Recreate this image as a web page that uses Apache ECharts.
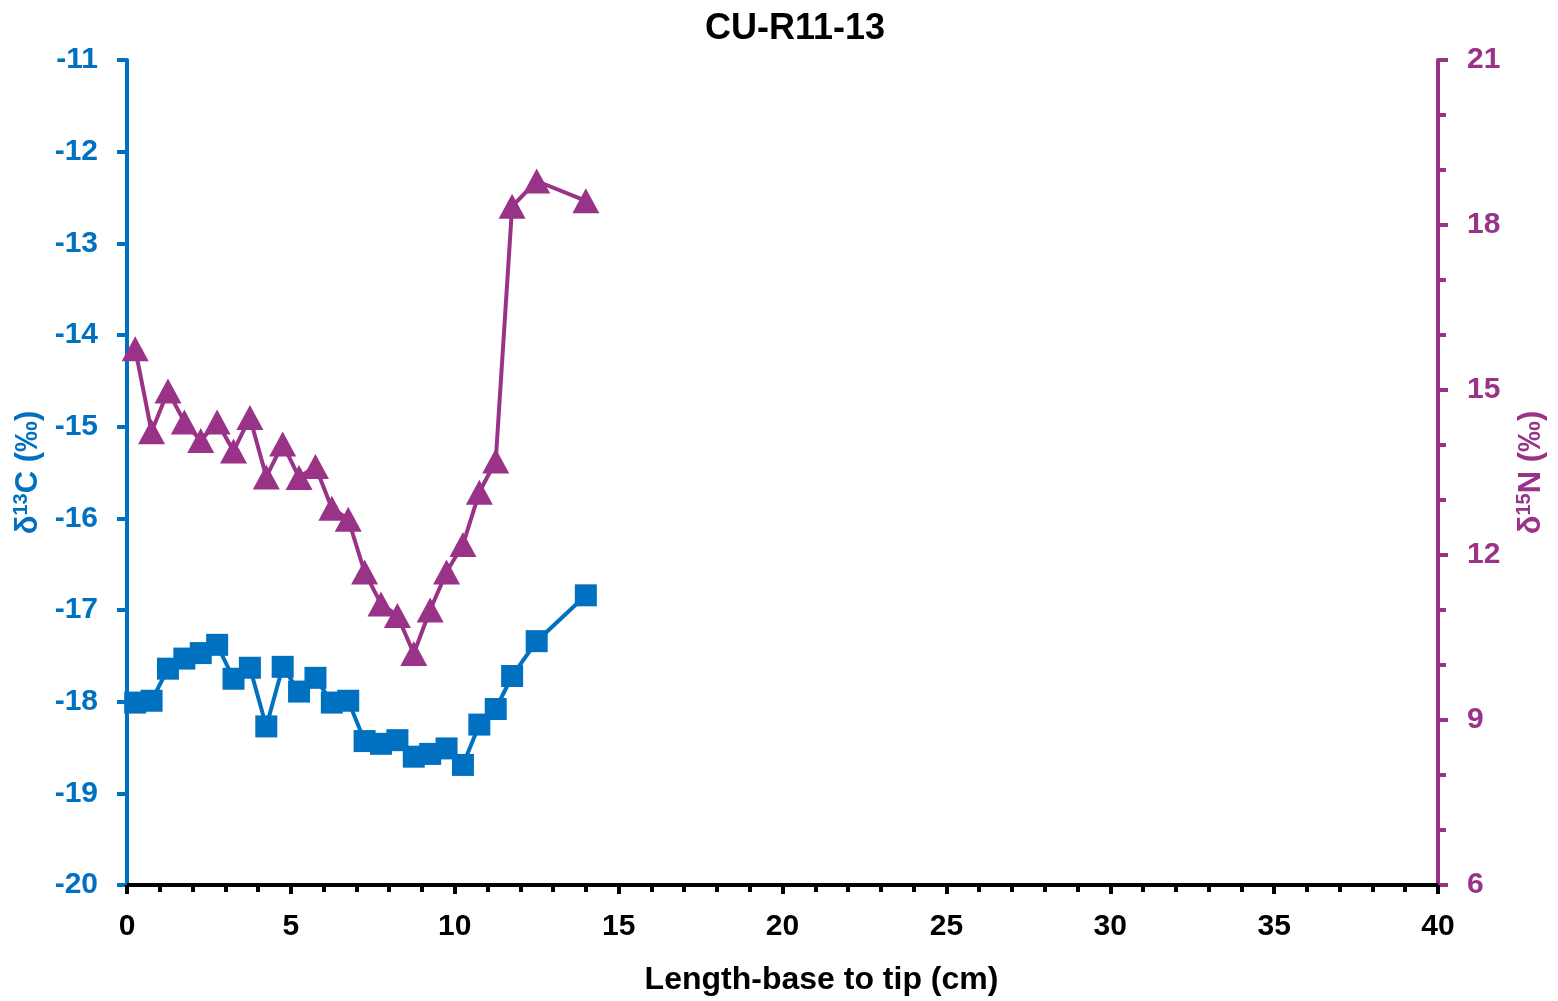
<!DOCTYPE html>
<html>
<head>
<meta charset="utf-8">
<title>CU-R11-13</title>
<script src="https://cdn.jsdelivr.net/npm/echarts@6/dist/echarts.min.js"></script>
<style>
  html, body { margin: 0; padding: 0; background: #ffffff; }
  #chart { width: 1558px; height: 1001px; }
</style>
</head>
<body>
<div id="chart"></div>
<script>
// Sample positions along the hair, base to tip (cm)
const lengthCm = [0.25, 0.75, 1.25, 1.75, 2.25, 2.75, 3.25, 3.75, 4.25, 4.75, 5.25, 5.75,
  6.25, 6.75, 7.25, 7.75, 8.25, 8.75, 9.25, 9.75, 10.25, 10.75, 11.25, 11.75, 12.5, 14];

// δ13C values (‰), left axis
const d13C = [-18.01, -17.99, -17.64, -17.53, -17.47, -17.38, -17.75, -17.63, -18.27, -17.62,
  -17.89, -17.74, -18.01, -17.99, -18.43, -18.46, -18.42, -18.60, -18.57, -18.51, -18.69,
  -18.25, -18.08, -17.72, -17.34, -16.84];

// δ15N values (‰), right axis
const d15N = [15.75, 14.24, 14.98, 14.42, 14.08, 14.42, 13.89, 14.50, 13.42, 14.02, 13.41,
  13.61, 12.85, 12.65, 11.69, 11.11, 10.90, 10.21, 11.00, 11.69, 12.19, 13.14, 13.71,
  18.34, 18.80, 18.44];

const BLUE = '#0070C0';
const PURPLE = '#993388';
const FONT = '"Liberation Sans", Arial, sans-serif';

const pairs = (xs, ys) => xs.map((x, i) => [x, ys[i]]);

const chart = echarts.init(document.getElementById('chart'), null, { renderer: 'canvas' });

chart.setOption({
  animation: false,
  backgroundColor: '#ffffff',
  title: {
    text: 'CU-R11-13',
    left: 790,
    top: 6,
    textAlign: 'center',
    textStyle: { fontFamily: FONT, fontWeight: 'bold', fontSize: 36, color: '#000' }
  },
  grid: { left: 127, right: 120, top: 60, bottom: 116, containLabel: false },
  xAxis: {
    type: 'value',
    min: 0, max: 40, interval: 5,
    name: 'Length-base to tip (cm)',
    nameLocation: 'middle',
    nameGap: 79,
    nameTextStyle: { fontFamily: FONT, fontWeight: 'bold', fontSize: 32, color: '#000', padding: [0, 0, 0, 78] },
    axisLine: { onZero: false, lineStyle: { color: '#000', width: 4 } },
    axisTick: { show: true, inside: false, length: 9, lineStyle: { color: '#000', width: 4 } },
    minorTick: { show: true, splitNumber: 5, length: 7, lineStyle: { color: '#000', width: 4 } },
    splitLine: { show: false },
    axisLabel: { margin: 27, fontFamily: FONT, fontWeight: 'bold', fontSize: 30, color: '#000' }
  },
  yAxis: [
    {
      type: 'value',
      position: 'left',
      min: -20, max: -11, interval: 1,
      name: '{t|δ}{s|13}{t|C (‰)}',
      nameLocation: 'middle',
      nameRotate: 90,
      nameGap: 80,
      nameTextStyle: {
        color: BLUE,
        rich: {
          t: { fontFamily: FONT, fontWeight: 'bold', fontSize: 31, color: BLUE },
          s: { fontFamily: FONT, fontWeight: 'bold', fontSize: 20, color: BLUE, padding: [0, 0, 14, 0] }
        }
      },
      axisLine: { show: true, onZero: false, lineStyle: { color: BLUE, width: 4 } },
      axisTick: { show: true, inside: false, length: 10, lineStyle: { color: BLUE, width: 4 } },
      splitLine: { show: false },
      axisLabel: { margin: 29, fontFamily: FONT, fontWeight: 'bold', fontSize: 30, color: BLUE }
    },
    {
      type: 'value',
      position: 'right',
      min: 6, max: 21, interval: 3,
      name: '{t|δ}{s|15}{t|N (‰)}',
      nameLocation: 'middle',
      nameRotate: 90,
      nameGap: 76,
      nameTextStyle: {
        color: PURPLE,
        rich: {
          t: { fontFamily: FONT, fontWeight: 'bold', fontSize: 31, color: PURPLE },
          s: { fontFamily: FONT, fontWeight: 'bold', fontSize: 20, color: PURPLE, padding: [0, 0, 14, 0] }
        }
      },
      axisLine: { show: true, onZero: false, lineStyle: { color: PURPLE, width: 4 } },
      axisTick: { show: true, inside: false, length: 10, lineStyle: { color: PURPLE, width: 4 } },
      minorTick: { show: true, splitNumber: 3, length: 8, lineStyle: { color: PURPLE, width: 4 } },
      splitLine: { show: false },
      axisLabel: { margin: 29, fontFamily: FONT, fontWeight: 'bold', fontSize: 30, color: PURPLE }
    }
  ],
  series: [
    {
      name: 'δ13C',
      type: 'line',
      yAxisIndex: 0,
      data: pairs(lengthCm, d13C),
      symbol: 'rect',
      symbolSize: 22,
      lineStyle: { color: BLUE, width: 4 },
      itemStyle: { color: BLUE },
      z: 2
    },
    {
      name: 'δ15N',
      type: 'line',
      yAxisIndex: 1,
      data: pairs(lengthCm, d15N),
      symbol: 'triangle',
      symbolSize: [27, 25],
      lineStyle: { color: PURPLE, width: 4 },
      itemStyle: { color: PURPLE },
      z: 3
    }
  ]
});
</script>
</body>
</html>
